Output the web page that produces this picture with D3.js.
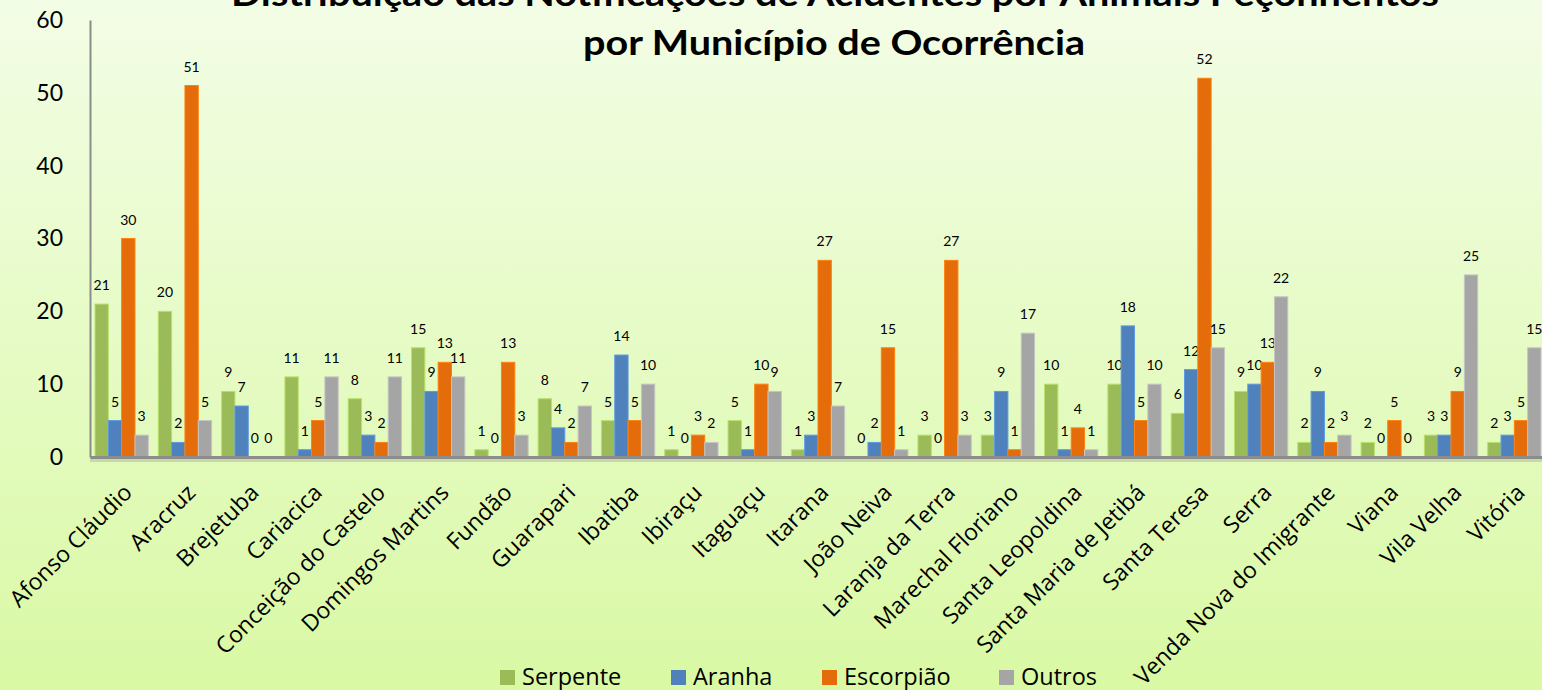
<!DOCTYPE html>
<html><head><meta charset="utf-8">
<script src="https://cdn.jsdelivr.net/npm/d3@7"></script>
<style>html,body{margin:0;padding:0;overflow:hidden;}svg{display:block;}</style>
</head><body>
<svg id="chart" width="1542" height="690"></svg>
<script>
const categories = ["Afonso Cláudio","Aracruz","Brejetuba","Cariacica","Conceição do Castelo","Domingos Martins","Fundão","Guarapari","Ibatiba","Ibiraçu","Itaguaçu","Itarana","João Neiva","Laranja da Terra","Marechal Floriano","Santa Leopoldina","Santa Maria de Jetibá","Santa Teresa","Serra","Venda Nova do Imigrante","Viana","Vila Velha","Vitória"];
const serpente  = [21,20,9,11,8,15,1,8,5,1,5,1,0,3,3,10,10,6,9,2,2,3,2];
const aranha    = [5,2,7,1,3,9,0,4,14,0,1,3,2,0,9,1,18,12,10,9,0,3,3];
const escorpiao = [30,51,0,5,2,13,13,2,5,3,10,27,15,27,1,4,5,52,13,2,5,9,5];
const outros    = [3,5,0,11,11,11,3,7,10,2,9,7,1,3,17,1,10,15,22,3,0,25,15];
const seriesNames = ["Serpente","Aranha","Escorpião","Outros"];
const seriesColors = ["#9BBB59","#4F81BD","#E46C0A","#A5A5A5"];
const yTicks = [0,10,20,30,40,50,60];
const titleLines = ["Distribuição das Notificações de Acidentes por Animais Peçonhentos","por Município de Ocorrência"];

const seriesValues = [serpente, aranha, escorpiao, outros];
const svg = d3.select("#chart");
const W = 1542, H = 690;
const font = "Lato, 'Open Sans', sans-serif";
const font2 = "'Open Sans', Lato, sans-serif";

// background gradient
const defs = svg.append("defs");
const g1 = defs.append("linearGradient").attr("id","bg").attr("x1",0).attr("y1",0).attr("x2",0).attr("y2",1);
g1.append("stop").attr("offset","0%").attr("stop-color","#f3fde6");
g1.append("stop").attr("offset","100%").attr("stop-color","#d9f9a4");
svg.append("rect").attr("width",W).attr("height",H).attr("fill","url(#bg)");

const mLeft = 90, mTop = 20, mBottom = 457, mRight = 1546;
const x0 = d3.scaleBand().domain(categories).range([mLeft, mRight]).paddingInner(0).paddingOuter(0);
const x1 = d3.scaleBand().domain(seriesNames).range([5, x0.bandwidth()-5]);
const y = d3.scaleLinear().domain([0,60]).range([mBottom, mTop]);

// y axis
const yAxis = svg.append("g").attr("transform",`translate(${mLeft},0)`)
  .call(d3.axisLeft(y).tickValues(yTicks).tickSize(0).tickPadding(27));
yAxis.select(".domain").attr("stroke","#8c8c8c").attr("stroke-width",2);
yAxis.selectAll("text").attr("font-family",font).attr("font-size",23).attr("fill","#000");

// bars
const groups = svg.append("g").selectAll("g").data(categories).join("g")
  .attr("transform", d => `translate(${x0(d)},0)`);
seriesNames.forEach((s, si) => {
  groups.append("rect")
    .attr("x", x1(s))
    .attr("y", (d,i) => y(seriesValues[si][i]))
    .attr("width", x1.bandwidth())
    .attr("height", (d,i) => mBottom - y(seriesValues[si][i]))
    .attr("fill", seriesColors[si])
    .attr("stroke", d3.color(seriesColors[si]).brighter(0.5))
    .attr("stroke-width", 1);
  groups.append("text")
    .attr("x", x1(s) + x1.bandwidth()/2)
    .attr("y", (d,i) => y(seriesValues[si][i]) - 14)
    .attr("text-anchor","middle")
    .attr("font-family",font).attr("font-size",14).attr("fill","#000")
    .text((d,i) => seriesValues[si][i]);
});

// x axis line
svg.append("line").attr("x1",mLeft).attr("x2",W).attr("y1",mBottom+2.5).attr("y2",mBottom+2.5)
  .attr("stroke","#b5c49a").attr("stroke-width",5).attr("opacity",0.6);
const xAxis = svg.append("g").attr("transform",`translate(0,${mBottom})`)
  .call(d3.axisBottom(x0).tickSize(0).tickFormat(""));
xAxis.select(".domain").attr("stroke","#8c8c8c").attr("stroke-width",3);

// category labels
svg.append("g").selectAll("text").data(categories).join("text")
  .attr("transform", d => `translate(${x0(d)+x0.bandwidth()/2+12},${mBottom+37}) rotate(-45)`)
  .attr("text-anchor","end")
  .attr("font-family",font2).attr("font-size",23).attr("fill","#000")
  .text(d => d);

// title
svg.append("text").attr("x",835).attr("y",6).attr("text-anchor","middle")
  .attr("font-family",font).attr("font-weight","bold").attr("font-size",34)
  .attr("textLength",1208).attr("lengthAdjust","spacingAndGlyphs").text(titleLines[0]);
svg.append("text").attr("x",834).attr("y",55).attr("text-anchor","middle")
  .attr("font-family",font).attr("font-weight","bold").attr("font-size",34)
  .attr("textLength",502).attr("lengthAdjust","spacingAndGlyphs").text(titleLines[1]);

// legend
const legendX = [500, 671, 822, 999];
const leg = svg.append("g");
seriesNames.forEach((s, i) => {
  leg.append("rect").attr("x",legendX[i]).attr("y",670).attr("width",15).attr("height",15).attr("fill",seriesColors[i]);
  leg.append("text").attr("x",legendX[i]+22).attr("y",685).attr("font-family",font2).attr("font-size",23.5).attr("fill","#000").text(s);
});
</script>
</body></html>
